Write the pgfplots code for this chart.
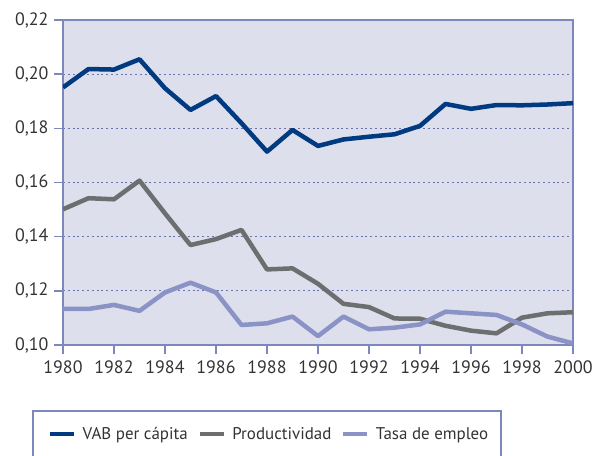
\documentclass[border=0pt]{standalone}
\usepackage{pgfplots}
\pgfplotsset{compat=1.18}
\usepackage{fontspec}
\setmainfont{PT Sans}
\definecolor{bgc}{RGB}{221,224,236}
\definecolor{framec}{RGB}{125,135,187}
\definecolor{gridc}{RGB}{105,114,170}
\definecolor{vab}{RGB}{0,58,128}
\definecolor{prod}{RGB}{109,110,112}
\definecolor{tasa}{RGB}{138,146,198}
\begin{document}
\begin{tikzpicture}
\path[use as bounding box] (-63bp,-111bp) rectangle (531bp,345bp);
\begin{axis}[scale only axis,width=510bp,height=325bp,at={(0,0)},anchor=south west,
  xmin=1980,xmax=2000,ymin=0.10,ymax=0.22,
  xtick={1980,1982,...,2000},ytick={0.10,0.12,...,0.22},
  x tick label style={/pgf/number format/1000 sep={}},
  y tick label style={/pgf/number format/fixed,/pgf/number format/fixed zerofill,
    /pgf/number format/precision=2,/pgf/number format/use comma},
  /pgf/number format/assume math mode=true,
  tick label style={font=\fontsize{18}{21}\selectfont,text=black!80},
  xticklabel style={yshift=-3bp},
  yticklabel style={xshift=-2bp},
  axis background/.style={fill=bgc},
  axis line style={draw=framec,line width=2bp},
  tick style={draw=framec,line width=1.5bp},
  tick align=outside,major tick length=9bp,
  xtick pos=bottom,ytick pos=left,
  ymajorgrids,
  major grid style={draw=gridc,line width=1.2bp,dash pattern=on 2bp off 2.8bp},
  legend columns=3,
  legend style={draw=none,fill=none,inner sep=0pt,at={(-15bp,-89bp)},anchor=west,
    font=\fontsize{17}{20}\selectfont,text=black!80,
    /tikz/every odd column/.append style={column sep=5bp},
    /tikz/every even column/.append style={column sep=8bp}},
  legend image code/.code={\draw[#1,line width=3.5bp] (0bp,0bp) -- (24bp,0bp);},
  every axis plot/.append style={line width=4.5bp,line join=round,mark=none},
]
\addplot[vab] coordinates {
(1980,0.1951) (1981,0.2019) (1982,0.2017) (1983,0.2055) (1984,0.1948)
(1985,0.1868) (1986,0.1919) (1987,0.1819) (1988,0.1714) (1989,0.1794)
(1990,0.1735) (1991,0.1759) (1992,0.1769) (1993,0.1778) (1994,0.1809)
(1995,0.1890) (1996,0.1872) (1997,0.1886) (1998,0.1885) (1999,0.1888) (2000,0.1893)};
\addlegendentry{VAB per cápita}
\addplot[prod] coordinates {
(1980,0.1501) (1981,0.1542) (1982,0.1538) (1983,0.1607) (1984,0.1486)
(1985,0.1369) (1986,0.1391) (1987,0.1425) (1988,0.1279) (1989,0.1283)
(1990,0.1226) (1991,0.1152) (1992,0.1140) (1993,0.1098) (1994,0.1097)
(1995,0.1071) (1996,0.1053) (1997,0.1043) (1998,0.1101) (1999,0.1117) (2000,0.1121)};
\addlegendentry{Productividad}
\addplot[tasa] coordinates {
(1980,0.1133) (1981,0.1133) (1982,0.1148) (1983,0.1126) (1984,0.1194)
(1985,0.1230) (1986,0.1194) (1987,0.1074) (1988,0.1080) (1989,0.1105)
(1990,0.1033) (1991,0.1105) (1992,0.1058) (1993,0.1064) (1994,0.1076)
(1995,0.1123) (1996,0.1117) (1997,0.1111) (1998,0.1076) (1999,0.1031) (2000,0.1006)};
\addlegendentry{Tasa de empleo}
\end{axis}
\draw[framec,line width=2bp] (-30bp,-130bp) -- (-30bp,-66bp) -- (438bp,-66bp) -- (438bp,-130bp);
\end{tikzpicture}
\end{document}
